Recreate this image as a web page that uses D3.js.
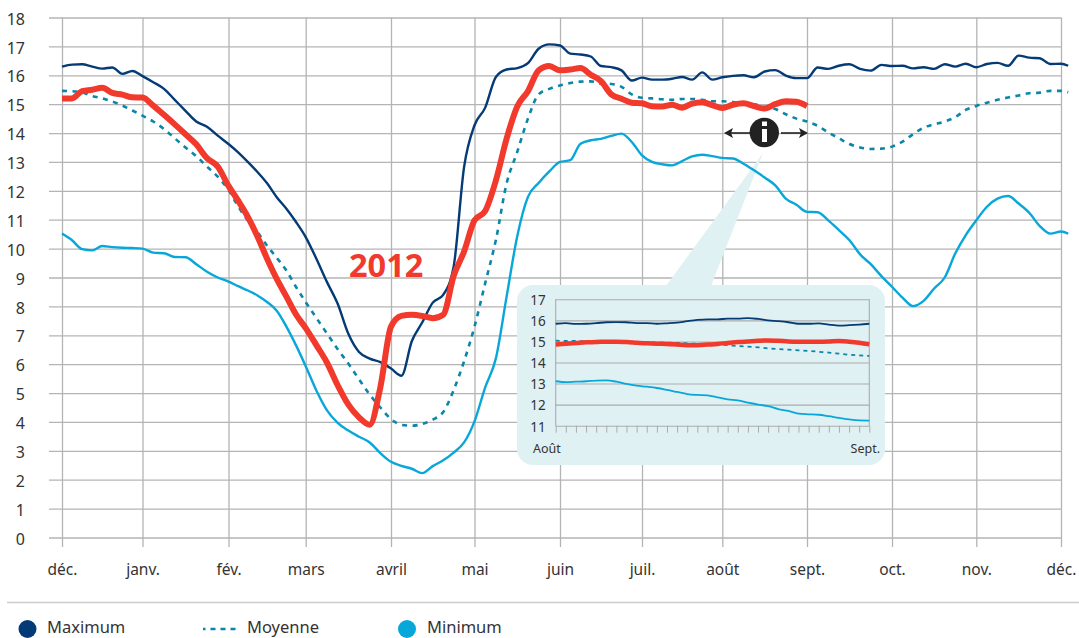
<!DOCTYPE html>
<html>
<head>
<meta charset="utf-8">
<script src="https://cdn.jsdelivr.net/npm/d3@7"></script>
<style>
    html, body { margin: 0; padding: 0; background: #fff; overflow: hidden; }
    svg { display: block; }
    text { font-family: "Noto Sans", sans-serif; fill: #333; }
    .domain { display: none; }
</style>
</head>
<body>
<svg id="chart" width="1079" height="638"></svg>
<script>
var months = ['déc.', 'janv.', 'fév.', 'mars', 'avril', 'mai', 'juin', 'juil.', 'août', 'sept.', 'oct.', 'nov.', 'déc.'];
var levels = d3.range(0, 19);
var insetLevels = d3.range(11, 18);
var insetLabels = ['Août', 'Sept.'];
var legendNames = ['Maximum', 'Moyenne', 'Minimum'];

// one reading every 1/8 of a month, the last one just past the final déc.
var maximum = [
    16.3, 16.37, 16.38, 16.3, 16.23, 16.27, 16.05, 16.15,
    15.97, 15.76, 15.53, 15.15, 14.77, 14.4, 14.22, 13.91,
    13.62, 13.33, 13.0, 12.65, 12.26, 11.78, 11.38, 10.92,
    10.4, 9.65, 8.84, 8.09, 7.05, 6.42, 6.19, 6.07,
    5.85, 5.6, 6.8, 7.45, 8.13, 8.4, 9.37, 12.82,
    14.27, 14.88, 15.94, 16.2, 16.25, 16.42, 16.92, 17.07,
    17.03, 16.75, 16.72, 16.65, 16.32, 16.28, 16.17, 15.82,
    15.92, 15.85, 15.85, 15.88, 15.94, 15.85, 16.1, 15.85,
    15.93, 15.98, 16.0, 15.93, 16.13, 16.18, 15.99, 15.9,
    15.9, 16.27, 16.22, 16.33, 16.38, 16.22, 16.16, 16.36,
    16.32, 16.33, 16.24, 16.28, 16.22, 16.38, 16.3, 16.4,
    16.28, 16.39, 16.43, 16.33, 16.68, 16.61, 16.59, 16.39,
    16.4, 16.33
];
var moyenne = [
    15.46, 15.45, 15.41, 15.28, 15.2, 15.09, 14.95, 14.78,
    14.6, 14.4, 14.14, 13.82, 13.5, 13.2, 12.84, 12.49,
    12.03, 11.46, 10.97, 10.57, 10.1, 9.68, 9.24, 8.67,
    8.15, 7.6, 7.06, 6.52, 6.02, 5.48, 4.95, 4.5,
    4.1, 3.9, 3.87, 3.93, 4.08, 4.34, 5.1, 6.1,
    7.3, 8.8, 10.3, 12.25, 13.35, 14.5, 15.34, 15.53,
    15.65, 15.73, 15.78, 15.79, 15.71, 15.7, 15.6, 15.34,
    15.22, 15.2, 15.17, 15.15, 15.18, 15.18, 15.15, 15.1,
    15.1, 15.07, 15.03, 15.0, 14.9, 14.83, 14.65, 14.5,
    14.4, 14.25, 14.02, 13.82, 13.62, 13.5, 13.45, 13.46,
    13.53, 13.7, 13.96, 14.19, 14.3, 14.4, 14.55, 14.8,
    14.94, 15.05, 15.15, 15.23, 15.3, 15.38, 15.4, 15.46,
    15.46, 15.41
];
var minimum = [
    10.52, 10.29, 9.98, 9.94, 10.09, 10.05, 10.03, 10.02,
    10.0, 9.86, 9.84, 9.71, 9.7, 9.46, 9.2, 9.0,
    8.86, 8.7, 8.55, 8.38, 8.15, 7.85, 7.3, 6.65,
    5.93, 5.09, 4.4, 3.97, 3.7, 3.49, 3.29, 2.92,
    2.62, 2.48, 2.38, 2.23, 2.47, 2.67, 2.94, 3.29,
    4.02, 5.2, 6.2, 8.33, 10.43, 11.79, 12.27, 12.67,
    13.0, 13.06, 13.63, 13.75, 13.8, 13.9, 13.98, 13.69,
    13.23, 13.0, 12.92, 12.88, 13.03, 13.19, 13.25, 13.2,
    13.14, 13.12, 12.94, 12.71, 12.46, 12.19, 11.73, 11.52,
    11.27, 11.26, 10.98, 10.64, 10.29, 9.8, 9.46, 9.05,
    8.68, 8.3, 8.01, 8.19, 8.62, 9.0, 9.83, 10.47,
    10.98, 11.45, 11.73, 11.82, 11.56, 11.24, 10.78, 10.52,
    10.59, 10.52
];
var year2012 = [
    15.2, 15.2, 15.45, 15.5, 15.57, 15.39, 15.33, 15.24,
    15.23, 14.95, 14.63, 14.3, 13.96, 13.61, 13.13, 12.84,
    12.17, 11.66, 11.1, 10.42, 9.65, 8.95, 8.34, 7.72,
    7.25, 6.66, 6.05, 5.27, 4.6, 4.16, 3.9, 5.2,
    7.3, 7.67, 7.71, 7.67, 7.59, 7.71, 9.05, 9.9,
    10.98, 11.3, 12.36, 13.8, 14.92, 15.45, 16.17, 16.32,
    16.17, 16.2, 16.25, 16.02, 15.8, 15.34, 15.19, 15.05,
    15.03, 14.93, 14.92, 14.98, 14.88, 15.02, 15.07, 14.97,
    14.87, 14.98, 15.03, 14.93, 14.85, 15.0, 15.1, 15.08,
    14.93
];

// august close-up, one reading per day
var insetMaximum = [15.84, 15.87, 15.83, 15.84, 15.87, 15.91, 15.92, 15.91, 15.87, 15.87, 15.84, 15.86, 15.89, 15.96, 16.02, 16.05, 16.05, 16.08, 16.08, 16.11, 16.07, 16.0, 15.96, 15.91, 15.84, 15.84, 15.86, 15.8, 15.75, 15.77, 15.8, 15.84];
var insetMoyenne = [15.04, 15.02, 15.02, 15.01, 15.01, 14.99, 14.99, 14.97, 14.97, 14.96, 14.94, 14.94, 14.93, 14.91, 14.89, 14.88, 14.85, 14.82, 14.78, 14.75, 14.72, 14.67, 14.64, 14.61, 14.58, 14.55, 14.51, 14.47, 14.42, 14.37, 14.34, 14.31];
var insetMinimum = [13.11, 13.07, 13.09, 13.11, 13.14, 13.15, 13.09, 12.98, 12.9, 12.85, 12.79, 12.7, 12.6, 12.5, 12.46, 12.44, 12.35, 12.25, 12.2, 12.1, 12.0, 11.93, 11.79, 11.7, 11.57, 11.54, 11.52, 11.45, 11.37, 11.3, 11.25, 11.24];
var insetYear2012 = [14.86, 14.89, 14.92, 14.96, 14.97, 14.99, 14.99, 14.97, 14.94, 14.91, 14.89, 14.88, 14.85, 14.82, 14.82, 14.85, 14.88, 14.93, 14.97, 15.0, 15.03, 15.05, 15.03, 15.0, 14.99, 14.99, 14.99, 15.0, 15.02, 14.99, 14.94, 14.86];

var colors = {max: '#043b76', mean: '#0a86a8', min: '#08a7da', year: '#f1392c', grid: '#b4b4b4', panel: '#e0f1f4', ink: '#222'};

var svg = d3.select('#chart');

// months are not evenly spaced on the original axis
var x = d3.scaleLinear().domain(d3.range(13)).range([62, 142.5, 228.5, 305.7, 391, 474.5, 560, 642, 722.3, 807, 892, 976.3, 1061]);
var y = d3.scaleLinear().domain([0, 18]).range([537.5, 17.5]);

function monthAt(i, len) {
    // last maximum/moyenne/minimum reading sits a bit past the end of the axis
    return (len === 98 && i === 97) ? 12.085 : i / 8;
}

var line = d3.line()
    .curve(d3.curveMonotoneX)
    .x(function (d, i, all) { return x(monthAt(i, all.length)); })
    .y(function (d) { return y(d); });

// Grid
var gridY = svg.append('g').attr('transform', 'translate(49,0)')
    .call(d3.axisLeft(y).tickValues(levels).tickSize(-1012).tickPadding(24).tickFormat(d3.format('d')));
gridY.selectAll('line').attr('stroke', colors.grid).attr('stroke-width', 1.3);
gridY.selectAll('text').attr('font-size', 16).attr('y', 1.5);

var gridX = svg.append('g').attr('transform', 'translate(0,547)')
    .call(d3.axisBottom(x).tickValues(d3.range(13)).tickSize(-529.5).tickPadding(0).tickFormat(''));
gridX.selectAll('line').attr('stroke', colors.grid).attr('stroke-width', 1.3);

svg.append('g').selectAll('text').data(months).enter().append('text')
    .attr('x', function (d, i) { return x(i) + 0.5; })
    .attr('y', 575)
    .attr('text-anchor', 'middle')
    .attr('font-size', 15.5)
    .text(function (d) { return d; });

// Wedge and close-up panel
svg.append('polygon')
    .attr('points', '763,153 666,286 711,286')
    .attr('fill', colors.panel);
svg.append('rect')
    .attr('x', 517).attr('y', 285).attr('width', 368).attr('height', 180).attr('rx', 16)
    .attr('fill', colors.panel);

// Main series
function drawSeries(g, fn, data, color, width, dash) {
    g.append('path')
        .attr('d', fn(data))
        .attr('fill', 'none')
        .attr('stroke', color)
        .attr('stroke-width', width)
        .attr('stroke-linejoin', 'round')
        .attr('stroke-dasharray', dash || null);
}

var main = svg.append('g');
drawSeries(main, line, maximum, colors.max, 2.4);
drawSeries(main, line, minimum, colors.min, 2.4);
drawSeries(main, line, moyenne, colors.mean, 2.6, '5 5.5');
drawSeries(main, line, year2012, colors.year, 6);

svg.append('text')
    .attr('x', 349).attr('y', 277)
    .attr('font-size', 32.5).attr('font-weight', 700)
    .style('fill', colors.year)
    .text('2012');

// Info marker with its two arrows
var info = svg.append('g');
info.append('line').attr('x1', 730).attr('x2', 750).attr('y1', 133).attr('y2', 133).attr('stroke', colors.ink).attr('stroke-width', 1.6);
info.append('line').attr('x1', 781).attr('x2', 802).attr('y1', 133).attr('y2', 133).attr('stroke', colors.ink).attr('stroke-width', 1.6);
info.append('polygon').attr('points', '724,133 733,128 731,133 733,138').attr('fill', colors.ink);
info.append('polygon').attr('points', '808,133 799,128 801,133 799,138').attr('fill', colors.ink);
info.append('circle').attr('cx', 764.3).attr('cy', 132.5).attr('r', 14.7).attr('fill', colors.ink);
info.append('rect').attr('x', 762).attr('y', 121.5).attr('width', 5).attr('height', 4.5).attr('fill', '#fff');
info.append('rect').attr('x', 762).attr('y', 129).attr('width', 5).attr('height', 13).attr('fill', '#fff');

// Close-up chart
var insetX = d3.scaleLinear().domain([0, 31]).range([555.7, 869.3]);
var insetY = d3.scaleLinear().domain([11, 17]).range([425.7, 299.3]);

var insetGridY = svg.append('g').attr('transform', 'translate(555.7,0)')
    .call(d3.axisLeft(insetY).tickValues(insetLevels).tickSize(-313.6).tickPadding(10).tickFormat(d3.format('d')));
insetGridY.selectAll('line').attr('stroke', '#ababab').attr('stroke-width', 1.1);
insetGridY.selectAll('text').attr('font-size', 13.5).attr('y', 1);

var insetTicks = svg.append('g').attr('transform', 'translate(0,425.7)')
    .call(d3.axisBottom(insetX).tickValues(d3.range(32)).tickSize(7).tickFormat(''));
insetTicks.selectAll('line').attr('stroke', '#ababab').attr('stroke-width', 1);

svg.append('line').attr('x1', 555.7).attr('x2', 555.7).attr('y1', 299.3).attr('y2', 425.7).attr('stroke', '#ababab').attr('stroke-width', 1.1);
svg.append('line').attr('x1', 869.3).attr('x2', 869.3).attr('y1', 299.3).attr('y2', 425.7).attr('stroke', '#ababab').attr('stroke-width', 1.1);

var insetLine = d3.line()
    .curve(d3.curveMonotoneX)
    .x(function (d, i) { return insetX(i); })
    .y(function (d) { return insetY(d); });

var inset = svg.append('g');
drawSeries(inset, insetLine, insetMaximum, colors.max, 1.8);
drawSeries(inset, insetLine, insetMinimum, colors.min, 1.8);
drawSeries(inset, insetLine, insetMoyenne, colors.mean, 1.8, '4 4');
drawSeries(inset, insetLine, insetYear2012, colors.year, 4.5);

svg.append('text').attr('x', 533).attr('y', 453).attr('font-size', 12.5).text(insetLabels[0]);
svg.append('text').attr('x', 880).attr('y', 453).attr('text-anchor', 'end').attr('font-size', 12.5).text(insetLabels[1]);

// Legend
svg.append('line').attr('x1', 7).attr('x2', 1079).attr('y1', 602.5).attr('y2', 602.5).attr('stroke', '#ccc').attr('stroke-width', 1.4);

var legend = svg.append('g');
legend.append('circle').attr('cx', 27.5).attr('cy', 629).attr('r', 9).attr('fill', colors.max);
legend.append('text').attr('x', 47).attr('y', 633).attr('font-size', 16.5).text(legendNames[0]);
legend.append('line').attr('x1', 203).attr('x2', 238).attr('y1', 629).attr('y2', 629)
    .attr('stroke', colors.mean).attr('stroke-width', 2.3).attr('stroke-dasharray', '2.5 5 5 5 5 5 5');
legend.append('text').attr('x', 247).attr('y', 633).attr('font-size', 16.5).text(legendNames[1]);
legend.append('circle').attr('cx', 407).attr('cy', 629).attr('r', 9).attr('fill', colors.min);
legend.append('text').attr('x', 427).attr('y', 633).attr('font-size', 16.5).text(legendNames[2]);
</script>
</body>
</html>
